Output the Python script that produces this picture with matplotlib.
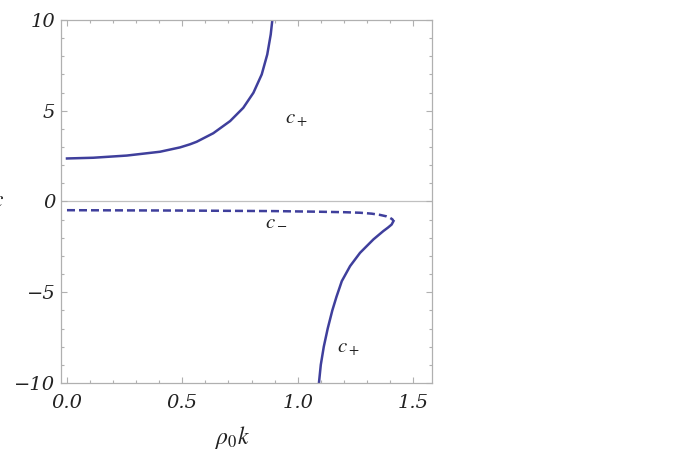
"""Dispersion branches c+ / c- versus rho0*k (Mathematica-style frame)."""

import matplotlib.pyplot as plt
from matplotlib.font_manager import FontProperties
from matplotlib.ticker import MultipleLocator

OUT = "out.png"

# upper c+ branch (diverges near rho0 k ~ 0.89)
k_up = [0.0, 0.114, 0.259, 0.403, 0.49, 0.533, 0.562, 0.634, 0.707, 0.764,
        0.808, 0.844, 0.868, 0.883, 0.890]
c_up = [2.37, 2.41, 2.53, 2.74, 2.98, 3.15, 3.29, 3.76, 4.43, 5.16,
        5.99, 7.0, 8.10, 9.20, 10.0]

# c- branch (dashed), ends at the turning point
k_minus = [0.0, 0.5, 0.9, 1.07, 1.2, 1.27, 1.32, 1.357, 1.385, 1.40, 1.41, 1.415]
c_minus = [-0.48, -0.50, -0.53, -0.56, -0.59, -0.62, -0.67, -0.74, -0.82, -0.90, -0.98, -1.08]

# lower c+ branch, from the turning point down
k_low = [1.415, 1.407, 1.391, 1.371, 1.328, 1.27, 1.227, 1.191, 1.168, 1.150,
         1.130, 1.113, 1.100, 1.092]
c_low = [-1.08, -1.27, -1.44, -1.63, -2.09, -2.83, -3.56, -4.39, -5.25, -6.0,
         -7.0, -8.0, -9.0, -10.0]

x_ticks = [0, 0.5, 1.0, 1.5]
x_labels = ["0.0", "0.5", "1.0", "1.5"]
y_ticks = [-10, -5, 0, 5, 10]
y_labels = ["\u221210", "\u22125", "0", "5", "10"]

LINE = "#3f3f9c"
FRAME = "#b0b0b0"

plt.rcParams["mathtext.fontset"] = "stix"

fig = plt.figure(figsize=(6.83, 4.51), dpi=100)
ax = fig.add_axes([0.0893, 0.1508, 0.5432, 0.8049])

ax.axhline(0, color="#c0c0c0", lw=0.9, zorder=1)
ax.plot(k_up, c_up, color=LINE, lw=1.8, solid_joinstyle="round")
ax.plot(k_minus, c_minus, color=LINE, lw=1.8, ls=(0, (3.2, 1.6)))
ax.plot(k_low, c_low, color=LINE, lw=1.8, solid_joinstyle="round")

ax.set_xlim(-0.026, 1.582)
ax.set_ylim(-10, 10)

tick_fp = FontProperties(family="DejaVu Serif", style="italic", size=14)
ax.xaxis.set_minor_locator(MultipleLocator(0.1))
ax.yaxis.set_minor_locator(MultipleLocator(1))
ax.set_xticks(x_ticks)
ax.set_xticklabels(x_labels, fontproperties=tick_fp, color="#222222")
ax.set_yticks(y_ticks)
ax.set_yticklabels(y_labels, fontproperties=tick_fp, color="#222222")

ax.tick_params(which="both", direction="in", top=True, right=True,
               color=FRAME, width=0.8)
ax.tick_params(which="major", length=4)
ax.tick_params(axis="x", which="major", pad=8)
ax.tick_params(axis="y", which="major", pad=4)
ax.tick_params(which="minor", length=2.2)
for s in ax.spines.values():
    s.set_color(FRAME)
    s.set_linewidth(0.9)

lab_kw = dict(fontsize=15, color="#222222")
ax.text(0.945, 4.3, r"$c_+$", **lab_kw)
ax.text(0.86, -1.35, r"$c_-$", **lab_kw)
ax.text(1.17, -8.3, r"$c_+$", **lab_kw)

fig.text(0.341, 0.015, r"$\rho_0 k$", fontsize=17, color="#222222", ha="center")
# y label is cut off at the left edge in the original
fig.text(-0.012, 0.54, r"$c$", fontsize=17, color="#222222")

plt.savefig(OUT, dpi=100)
print(f"Saved -> {OUT}")
